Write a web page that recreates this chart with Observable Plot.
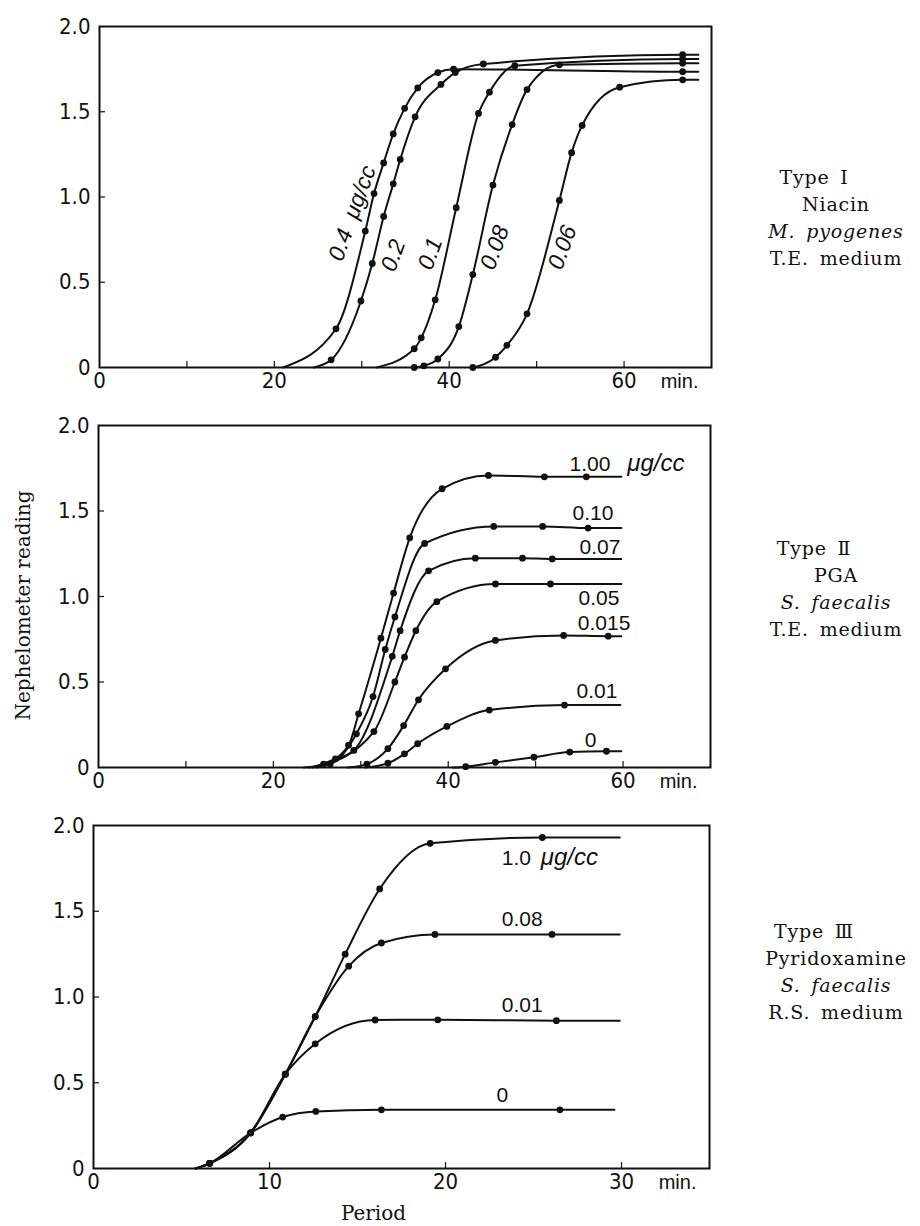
<!DOCTYPE html>
<html><head><meta charset="utf-8">
<script src="https://cdn.jsdelivr.net/npm/d3@7"></script>
<script src="https://cdn.jsdelivr.net/npm/@observablehq/plot@0.6"></script>
<style>
body{margin:0;background:#fff;}
#wrap{position:relative;width:920px;height:1226px;background:#fff;overflow:hidden;}
#wrap svg{position:absolute;left:0;}
.cap{position:absolute;width:200px;text-align:center;font-family:"DejaVu Serif",serif;font-size:19px;line-height:27px;color:#111;letter-spacing:0.8px;word-spacing:4px;}
.cap .ty{padding-right:44px;}
</style></head>
<body><div id="wrap"></div>
<script>
// ---------------- Data ----------------
// Panel I: Niacin, M. pyogenes (time in min, nephelometer reading)
const seriesI = ["0.4  μg/cc", "0.2", "0.1", "0.08", "0.06"];
const onsetI = [21, 24.5, 31.7, null, null];
const endI = [68.5, 68.5, 68.5, 68.5, 68.5];
const tI = [
  [27.05, 30.4, 31.4, 32.5, 33.6, 34.9, 36.4, 38.7, 40.5, 66.7],
  [26.5, 29.9, 31.2, 32.5, 33.6, 34.4, 36.1, 39.05, 40.7, 43.9, 66.7],
  [36.0, 36.8, 38.4, 40.8, 43.35, 44.6, 47.5, 66.7],
  [36.0, 37.1, 38.7, 41.1, 42.7, 45.0, 47.2, 48.9, 52.6, 66.7],
  [42.7, 45.3, 46.6, 48.9, 52.6, 54.0, 55.2, 59.5, 66.7]
];
const vI = [
  [0.227, 0.80, 1.02, 1.20, 1.37, 1.52, 1.64, 1.73, 1.75, 1.735],
  [0.045, 0.39, 0.61, 0.886, 1.077, 1.22, 1.47, 1.66, 1.73, 1.78, 1.835],
  [0.11, 0.174, 0.397, 0.937, 1.49, 1.615, 1.77, 1.81],
  [0.0, 0.01, 0.05, 0.24, 0.545, 1.07, 1.425, 1.63, 1.775, 1.785],
  [0.0, 0.06, 0.13, 0.315, 0.98, 1.26, 1.42, 1.644, 1.687]
];

// Panel II: PGA, S. faecalis
const seriesII = ["1.00", "0.10", "0.07", "0.05", "0.015", "0.01", "0"];
const onsetII = [23.5, 24.0, 24.5, 25.0, 28.5, 30.5, 40.5];
const endII = [59.8, 59.8, 59.8, 59.8, 59.8, 59.7, 59.8];
const tII = [
  [25.75, 28.6, 29.75, 32.3, 33.75, 35.6, 39.3, 44.6, 51.0, 55.8],
  [26.5, 29.5, 31.4, 32.8, 33.9, 37.3, 45.2, 50.8, 56.0],
  [27.1, 29.2, 33.6, 34.5, 37.75, 43.1, 48.5, 51.9],
  [31.5, 33.9, 35.0, 36.3, 38.7, 45.4, 51.7],
  [30.7, 33.1, 34.9, 36.6, 39.7, 45.4, 53.2, 58.3],
  [33.1, 35.0, 36.5, 39.85, 44.7, 53.3],
  [42.0, 45.4, 49.8, 53.9, 58.1]
];
const vII = [
  [0.02, 0.13, 0.314, 0.756, 1.02, 1.343, 1.63, 1.708, 1.70, 1.70],
  [0.02, 0.197, 0.415, 0.69, 0.88, 1.31, 1.41, 1.41, 1.40],
  [0.05, 0.10, 0.65, 0.80, 1.15, 1.224, 1.224, 1.22],
  [0.21, 0.50, 0.645, 0.80, 0.97, 1.073, 1.073],
  [0.02, 0.11, 0.245, 0.396, 0.577, 0.743, 0.772, 0.768],
  [0.025, 0.08, 0.139, 0.24, 0.336, 0.365],
  [0.005, 0.03, 0.06, 0.09, 0.095]
];

// Panel III: Pyridoxamine, S. faecalis
const seriesIII = ["1.0", "0.08", "0.01", "0"];
const onsetIII = [5.8, 5.8, 5.8, 5.8];
const endIII = [29.9, 29.9, 29.9, 29.6];
const tIII = [
  [6.6, 8.93, 10.9, 12.6, 14.3, 16.26, 19.13, 25.5],
  [6.6, 8.93, 10.9, 12.6, 14.5, 16.36, 19.4, 26.05],
  [6.6, 8.93, 10.9, 12.6, 16.0, 19.56, 26.3],
  [6.6, 8.93, 10.75, 12.63, 16.36, 26.5]
];
const vIII = [
  [0.03, 0.208, 0.55, 0.886, 1.25, 1.63, 1.896, 1.93],
  [0.03, 0.208, 0.55, 0.886, 1.18, 1.315, 1.365, 1.365],
  [0.03, 0.208, 0.55, 0.727, 0.866, 0.867, 0.862],
  [0.03, 0.208, 0.30, 0.333, 0.342, 0.342]
];

// Axis ticks
const yTickLabels = [0, 0.5, 1.0, 1.5, 2.0];
const yTickMarks = [0.5, 1.0, 1.5];
const xTickLabelsA = [0, 20, 40, 60];
const xTickMarksA = [10, 20, 30, 40, 50, 60];
const xTickLabelsB = [0, 10, 20, 30];
const xTickMarksB = [10, 20, 30];

// Right-hand captions
const captions = [
  ["Type Ⅰ", "Niacin", "<i>M. pyogenes</i>", "T.E. medium"],
  ["Type Ⅱ", "PGA", "<i>S. faecalis</i>", "T.E. medium"],
  ["Type Ⅲ", "Pyridoxamine", "<i>S. faecalis</i>", "R.S. medium"]
];

// ---------------- Helpers ----------------
const SANS = "'Liberation Sans Narrow','DejaVu Sans Condensed','Liberation Sans',sans-serif";
const LAB = "'Liberation Sans',Arial,sans-serif";

function build(series, onset, ts, vs, ends) {
  const lines = [], dots = [];
  series.forEach((s, i) => {
    if (onset[i] != null) lines.push({s, t: onset[i], v: 0});
    ts[i].forEach((t, j) => {
      lines.push({s, t, v: vs[i][j]});
      dots.push({s, t, v: vs[i][j]});
    });
    lines.push({s, t: ends[i], v: vs[i][vs[i].length - 1]});
  });
  return {lines, dots};
}

function panel({height, mt, mb, ml, mr, xMax, xLabels, xMarks, data, extra, xLetter}) {
  const W = 920 - ml - mr, H = height - mt - mb;
  return Plot.plot({
    width: 920, height,
    marginLeft: ml, marginRight: mr, marginTop: mt, marginBottom: mb,
    x: {domain: [0, xMax]},
    y: {domain: [0, 2]},
    style: {background: "transparent", color: "#111", fontFamily: SANS, fontSize: "22px", overflow: "visible"},
    marks: [
      Plot.axisX({ticks: xLabels, tickSize: 0, tickPadding: 5, label: null, fontFamily: SANS, fontSize: 22,
        tickFormat: d => String(d), letterSpacing: xLetter}),
      Plot.axisY({ticks: yTickLabels, tickSize: 0, tickPadding: 9, label: null, fontFamily: SANS, fontSize: 22,
        tickFormat: d => d === 0 ? "0" : d.toFixed(1)}),
      Plot.tickX(xMarks, {x: d => d, insetTop: H - 6, stroke: "#111", strokeWidth: 1.2}),
      Plot.tickY(yTickMarks, {y: d => d, insetRight: W - 6, stroke: "#111", strokeWidth: 1.2}),
      Plot.line(data.lines, {x: "t", y: "v", z: "s", curve: "monotone-x", stroke: "#111", strokeWidth: 2}),
      Plot.dot(data.dots, {x: "t", y: "v", r: 3.4, fill: "#111", stroke: null}),
      Plot.frame({stroke: "#111", strokeWidth: 2}),
      Plot.text(["min."], {frameAnchor: "bottom-right", textAnchor: "end", lineAnchor: "top", dx: -13, dy: 6,
        fontFamily: LAB, fontSize: 20, letterSpacing: 1}),
      ...extra
    ]
  });
}

const wrap = document.getElementById("wrap");

// ---------------- Panel I ----------------
const dI = build(seriesI, onsetI, tI, vI, endI);
const anchorI = [1, 2, 2, 4, 4];
const ldxI = [-13, 21, -5, 22, 3];
const ldyI = [-18, -8, -46, -27, 47];
const labelsI = seriesI.map((s, i) => Plot.text([{t: tI[i][anchorI[i]], v: vI[i][anchorI[i]], s}], {
  x: "t", y: "v", text: "s", rotate: -70, dx: ldxI[i], dy: ldyI[i],
  fontFamily: LAB, fontSize: 23, fontStyle: "italic", textAnchor: "middle", lineAnchor: "middle", letterSpacing: 1.2
}));
const svg1 = panel({height: 400, mt: 26, mb: 33, ml: 99, mr: 209, xMax: 70, xLabels: xTickLabelsA, xMarks: xTickMarksA,
  data: dI, extra: labelsI});
svg1.style.top = "0px";
wrap.appendChild(svg1);

// ---------------- Panel II ----------------
const dII = build(seriesII, onsetII, tII, vII, endII);
const ldxII = [-11, -8, -1, -2, 9, -3, -25];
const ldyII = [-6, -8, -5, 21, -6, -7, -4];
const labelsII = seriesII.map((s, i) => Plot.text([{t: endII[i], v: vII[i][vII[i].length - 1], s}], {
  x: "t", y: "v", text: "s", dx: ldxII[i], dy: ldyII[i], textAnchor: "end", lineAnchor: "bottom",
  fontFamily: LAB, fontSize: 21, letterSpacing: 0.5
}));
labelsII.push(Plot.text([{t: endII[0], v: vII[0][vII[0].length - 1]}], {
  x: "t", y: "v", text: () => "μg/cc", dx: 6, dy: -6, textAnchor: "start", lineAnchor: "bottom",
  fontFamily: LAB, fontSize: 24, fontStyle: "italic", letterSpacing: 1
}));
labelsII.push(Plot.text(["Nephelometer reading"], {
  frameAnchor: "left", rotate: -90, dx: -75, dy: 9, textAnchor: "middle", lineAnchor: "middle",
  fontFamily: "'DejaVu Serif',serif", fontSize: 20, letterSpacing: 1.2
}));
const svg2 = panel({height: 400, mt: 25, mb: 33, ml: 98, mr: 210, xMax: 70, xLabels: xTickLabelsA, xMarks: xTickMarksA,
  data: dII, extra: labelsII});
svg2.style.top = "400px";
wrap.appendChild(svg2);

// ---------------- Panel III ----------------
const dIII = build(seriesIII, onsetIII, tIII, vIII, endIII);
const ldyIII = [27, -8, -9, -8];
const labelsIII = seriesIII.map((s, i) => Plot.text([{t: endIII[i], v: vIII[i][vIII[i].length - 1], s}], {
  x: "t", y: "v", text: "s", dx: -118, dy: ldyIII[i], textAnchor: "start", lineAnchor: "bottom",
  fontFamily: LAB, fontSize: 21, letterSpacing: 2
}));
labelsIII.push(Plot.text([{t: endIII[0], v: vIII[0][vIII[0].length - 1]}], {
  x: "t", y: "v", text: () => "μg/cc", dx: -79, dy: 27, textAnchor: "start", lineAnchor: "bottom",
  fontFamily: LAB, fontSize: 24, fontStyle: "italic", letterSpacing: 1
}));
labelsIII.push(Plot.text(["Period"], {
  frameAnchor: "bottom", dx: -28, dy: 45, textAnchor: "middle", lineAnchor: "middle",
  fontFamily: "'DejaVu Serif',serif", fontSize: 20, letterSpacing: 1
}));
const svg3 = panel({height: 426, mt: 25, mb: 58, ml: 93, mr: 211, xMax: 35, xLabels: xTickLabelsB, xMarks: xTickMarksB,
  data: dIII, extra: labelsIII, xLetter: 3});
svg3.style.top = "800px";
wrap.appendChild(svg3);

// ---------------- Captions ----------------
const capTops = [164, 535, 918];
captions.forEach((lines, k) => {
  const div = document.createElement("div");
  div.className = "cap";
  div.style.left = "736px";
  div.style.top = capTops[k] + "px";
  div.innerHTML = lines.map((l, j) => j === 0 ? `<div class="ty">${l}</div>` : `<div>${l}</div>`).join("");
  wrap.appendChild(div);
});
</script>
</body></html>
